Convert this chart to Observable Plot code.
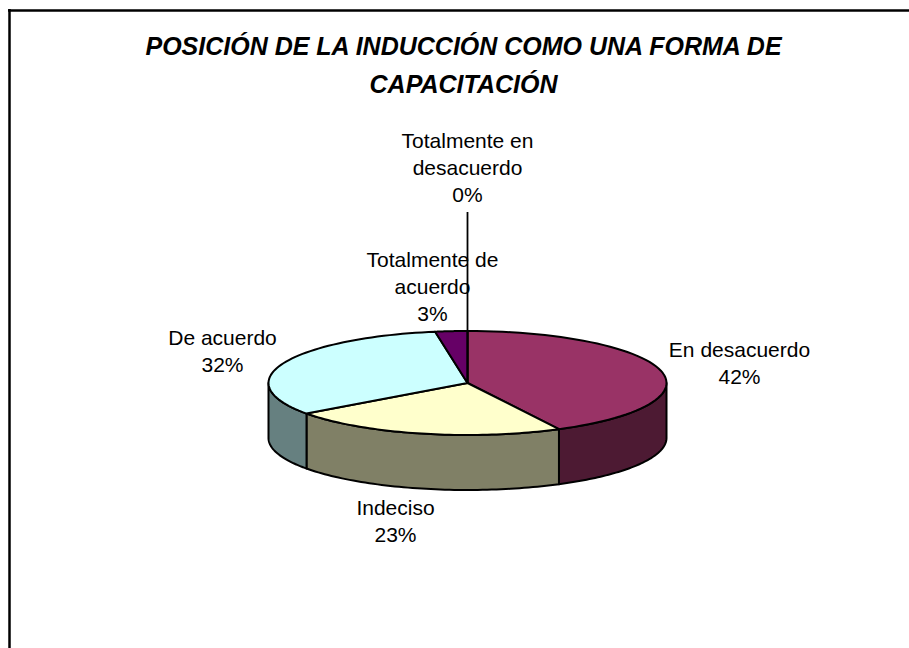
<!DOCTYPE html>
<html><head><meta charset="utf-8">
<script src="https://cdn.jsdelivr.net/npm/d3@7"></script>
<script src="https://cdn.jsdelivr.net/npm/@observablehq/plot@0.6"></script>
<style>html,body{margin:0;padding:0;background:#fff}svg{display:block}</style>
</head><body><div id="chart"></div>
<script>
const categories = ["Totalmente en desacuerdo","En desacuerdo","Indeciso","De acuerdo","Totalmente de acuerdo"];
const shares = [0, 42.4, 22.6, 32.4, 2.6];
const percentLabels = ["0%","42%","23%","32%","3%"];
const topColors = ["#3366ff","#993366","#ffffcc","#ccffff","#660066"];
const sideColors = ["#1a3380","#4d1a33","#808066","#668080","#330033"];
const titleLines = ["POSICIÓN DE LA INDUCCIÓN COMO UNA FORMA DE","CAPACITACIÓN"];

const W = 909, H = 648;
const cx = 467, cy = 382.5, rx = 199, ry = 52, depth = 55;
const total = d3.sum(shares);
let acc = 0;
const slices = categories.map((name, i) => {
  const a0 = acc / total * 2 * Math.PI; acc += shares[i];
  const a1 = acc / total * 2 * Math.PI;
  return {i, name, a0, a1};
});
const rim = a => [cx + rx * Math.sin(a), cy - ry * Math.cos(a)];
const steps = (a0, a1) => d3.range(0, 61).map(k => a0 + (a1 - a0) * k / 60);

const topPts = [];
const sidePts = [];
for (const s of slices) {
  if (s.a1 === s.a0) continue;
  const ring = steps(s.a0, s.a1).map(rim);
  for (const [x, y] of [[cx, cy], ...ring, [cx, cy]]) topPts.push({x, y, i: s.i});
  // visible front wall: the part of the rim with the lower half of the ellipse
  const lo = Math.max(s.a0, Math.PI / 2), hi = Math.min(s.a1, 3 * Math.PI / 2);
  if (hi > lo) {
    const front = steps(lo, hi).map(rim);
    const wall = [...front, ...front.slice().reverse().map(([x, y]) => [x, y + depth]), front[0]];
    for (const [x, y] of wall) sidePts.push({x, y, i: s.i});
  }
}

const labels = [
  {i: 0, x: 467, y: 141},
  {i: 1, x: 739, y: 350},
  {i: 2, x: 395, y: 508},
  {i: 3, x: 222, y: 338},
  {i: 4, x: 432, y: 260}
];
const wrap = {0: ["Totalmente en","desacuerdo"], 1: ["En desacuerdo"], 2: ["Indeciso"], 3: ["De acuerdo"], 4: ["Totalmente de","acuerdo"]};
const labelLines = labels.flatMap(l => [...wrap[l.i], percentLabels[l.i]].map((t, k) => ({t, x: l.x, y: l.y + k * 27})));

const chart = Plot.plot({
  width: W, height: H,
  marginLeft: 0, marginRight: 0, marginTop: 0, marginBottom: 0,
  x: {type: "identity", axis: null}, y: {type: "identity", axis: null},
  marks: [
    Plot.ruleX([9], {y1: 9, y2: H, stroke: "#000", strokeWidth: 2.5}),
    Plot.ruleY([10], {x1: 8, x2: W, stroke: "#000", strokeWidth: 2.5}),
    Plot.line(sidePts, {x: "x", y: "y", z: "i", fill: d => sideColors[d.i], stroke: "#000", strokeWidth: 2, curve: "linear"}),
    Plot.line(topPts, {x: "x", y: "y", z: "i", fill: d => topColors[d.i], stroke: "#000", strokeWidth: 2, curve: "linear"}),
    Plot.ruleX([cx], {y1: cy, y2: 212, stroke: "#000", strokeWidth: 1.8}),
    Plot.text(labelLines, {x: "x", y: "y", text: "t", fontSize: 21, fontFamily: "Liberation Sans, Arial, sans-serif", fill: "#000"}),
    Plot.text(titleLines.map((t, k) => ({t, k})), {x: 463, y: d => 46 + d.k * 38, text: "t", fontSize: 25, fontWeight: "bold", fontStyle: "italic", fontFamily: "Liberation Sans, Arial, sans-serif", fill: "#000"})
  ]
});
document.getElementById("chart").append(chart);
</script></body></html>
